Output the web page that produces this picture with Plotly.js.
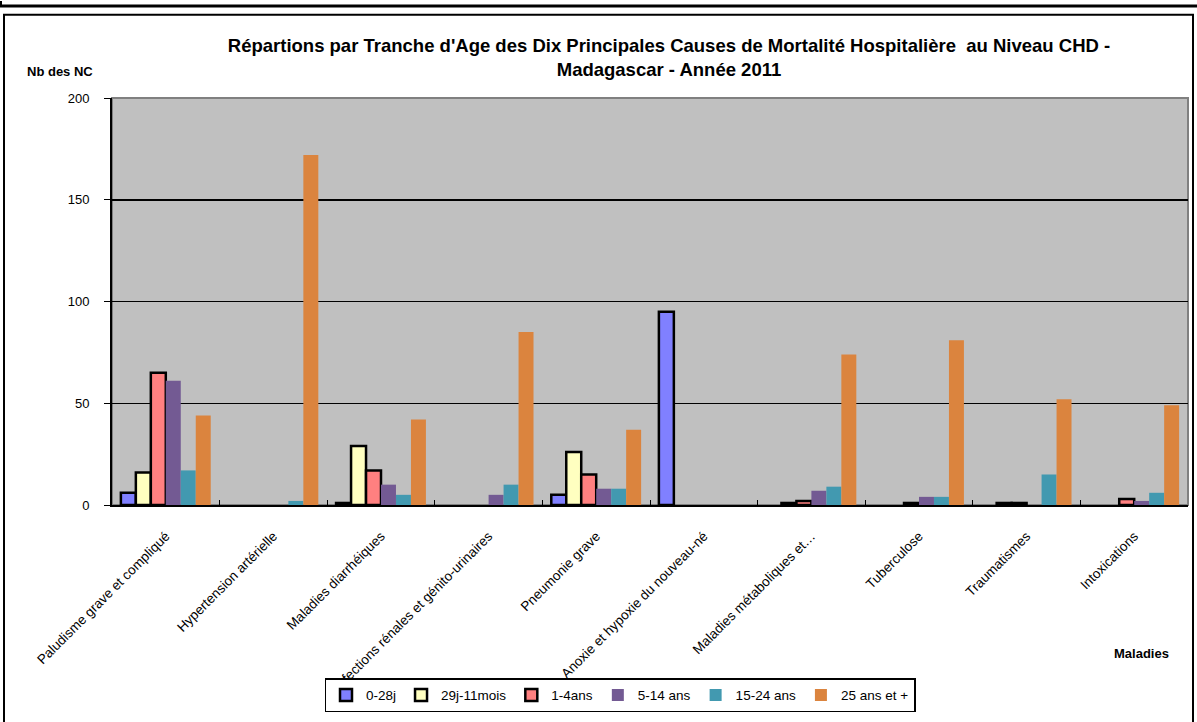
<!DOCTYPE html>
<html><head><meta charset="utf-8">
<script src="https://cdn.plot.ly/plotly-3.0.1.min.js"></script>
<style>html,body{margin:0;padding:0;background:#fff;}#chart{width:1197px;height:722px;}</style>
</head><body><div id="chart"></div>
<script>
const categories = ["Paludisme grave et compliqué","Hypertension artérielle","Maladies diarrhéiques","Infections rénales et génito-urinaires","Pneumonie grave","Anoxie et hypoxie du nouveau-né","Maladies métaboliques et…","Tuberculose","Traumatismes","Intoxications"];
const seriesNames = ["0-28j","29j-11mois","1-4ans","5-14 ans","15-24 ans","25 ans et +"];
const s0_28j     = [6, 0, 1, 0, 5, 95, 0, 0, 0, 0];
const s29j_11m   = [16, 0, 29, 0, 26, 0, 1, 0, 1, 0];
const s1_4ans    = [65, 0, 17, 0, 15, 0, 2, 1, 1, 3];
const s5_14ans   = [61, 0, 10, 5, 8, 0, 7, 4, 0, 2];
const s15_24ans  = [17, 2, 5, 10, 8, 0, 9, 4, 15, 6];
const s25plus    = [44, 172, 42, 85, 37, 0, 74, 81, 52, 49];
const yTicks = [0, 50, 100, 150, 200];

const colors = ["#8080FF","#FFFFC0","#FF8080","#735A93","#4299B0","#DB843E"];
const outlined = [true,true,true,false,false,false];
const values = [s0_28j,s29j_11m,s1_4ans,s5_14ans,s15_24ans,s25plus];

const traces = values.map((v,i)=>({
  type:'bar', x:categories, y:v.map(d=>d===0?null:d), name:seriesNames[i],
  marker:{color:colors[i], line:{color:'#000', width: outlined[i]?2.5:0}},
  hoverinfo:'x+y+name'
}));

const L=112, R=1188, T=98, B=509;
const W=R-L, H=B-T;
const px=x=>(x-L)/W, py=y=>(B-y)/H;
const FONT='Arial, "Liberation Sans", sans-serif';

const layout = {
  width:1197, height:722, autosize:false,
  margin:{l:L, r:1197-R, t:T, b:722-B, pad:0},
  paper_bgcolor:'#fff', plot_bgcolor:'#C0C0C0',
  font:{family:FONT, color:'#000', size:13},
  title:{text:"<b>Répartions par Tranche d'Age des Dix Principales Causes de Mortalité Hospitalière  au Niveau CHD -<br>Madagascar - Année 2011</b>",
    font:{size:18.5, family:FONT, color:'#000'},
    x:669/1197, xanchor:'center', xref:'container', y:1-52/722, yanchor:'top', yref:'container'},
  bargap:0.165, bargroupgap:0, barmode:'group',
  xaxis:{type:'category', tickangle:-45, tickfont:{size:13.5}, ticks:'inside', tickson:'boundaries', ticklen:5, tickcolor:'#000',
    ticklabelstandoff:16,
    showline:true, linecolor:'#000', linewidth:2, showgrid:false, automargin:false},
  yaxis:{range:[0,200], tickvals:yTicks, ticktext:yTicks.map(String), ticks:'outside', ticklen:6, tickcolor:'#000',
    ticklabelstandoff:12,
    showline:true, linecolor:'#000', linewidth:2, showgrid:true, gridcolor:'#000', gridwidth:1.5, zeroline:false,
    tickfont:{size:13}, automargin:false},
  showlegend:true,
  legend:{orientation:'h', x:px(620), xanchor:'center', y:py(684), yanchor:'top', bgcolor:'#fff', bordercolor:'#000', borderwidth:1.5,
    font:{size:13.5}, traceorder:'normal', itemwidth:30},
  annotations:[
    {text:'<b>Nb des NC</b>', xref:'paper', yref:'paper', x:px(25), y:py(71), xanchor:'left', yanchor:'middle', showarrow:false, font:{size:13}},
    {text:'<b>Maladies</b>', xref:'paper', yref:'paper', x:px(1171), y:py(659), xanchor:'right', yanchor:'middle', showarrow:false, font:{size:13}}
  ],
  shapes:[
    {type:'line', xref:'paper', yref:'paper', x0:px(0), x1:px(1197), y0:py(5), y1:py(5), line:{color:'#000', width:3}},
    {type:'line', xref:'paper', yref:'paper', x0:px(1), x1:px(1), y0:py(0), y1:py(5), line:{color:'#000', width:2}},
    {type:'rect', xref:'paper', yref:'paper', x0:px(4), x1:px(1193), y0:py(14), y1:py(730), line:{color:'#000', width:2}},
    {type:'rect', xref:'paper', yref:'paper', x0:0, x1:1, y0:0, y1:1, line:{color:'#808080', width:2}, layer:'below'}
  ]
};

Plotly.newPlot('chart', traces, layout, {staticPlot:true, displayModeBar:false});
</script></body></html>
